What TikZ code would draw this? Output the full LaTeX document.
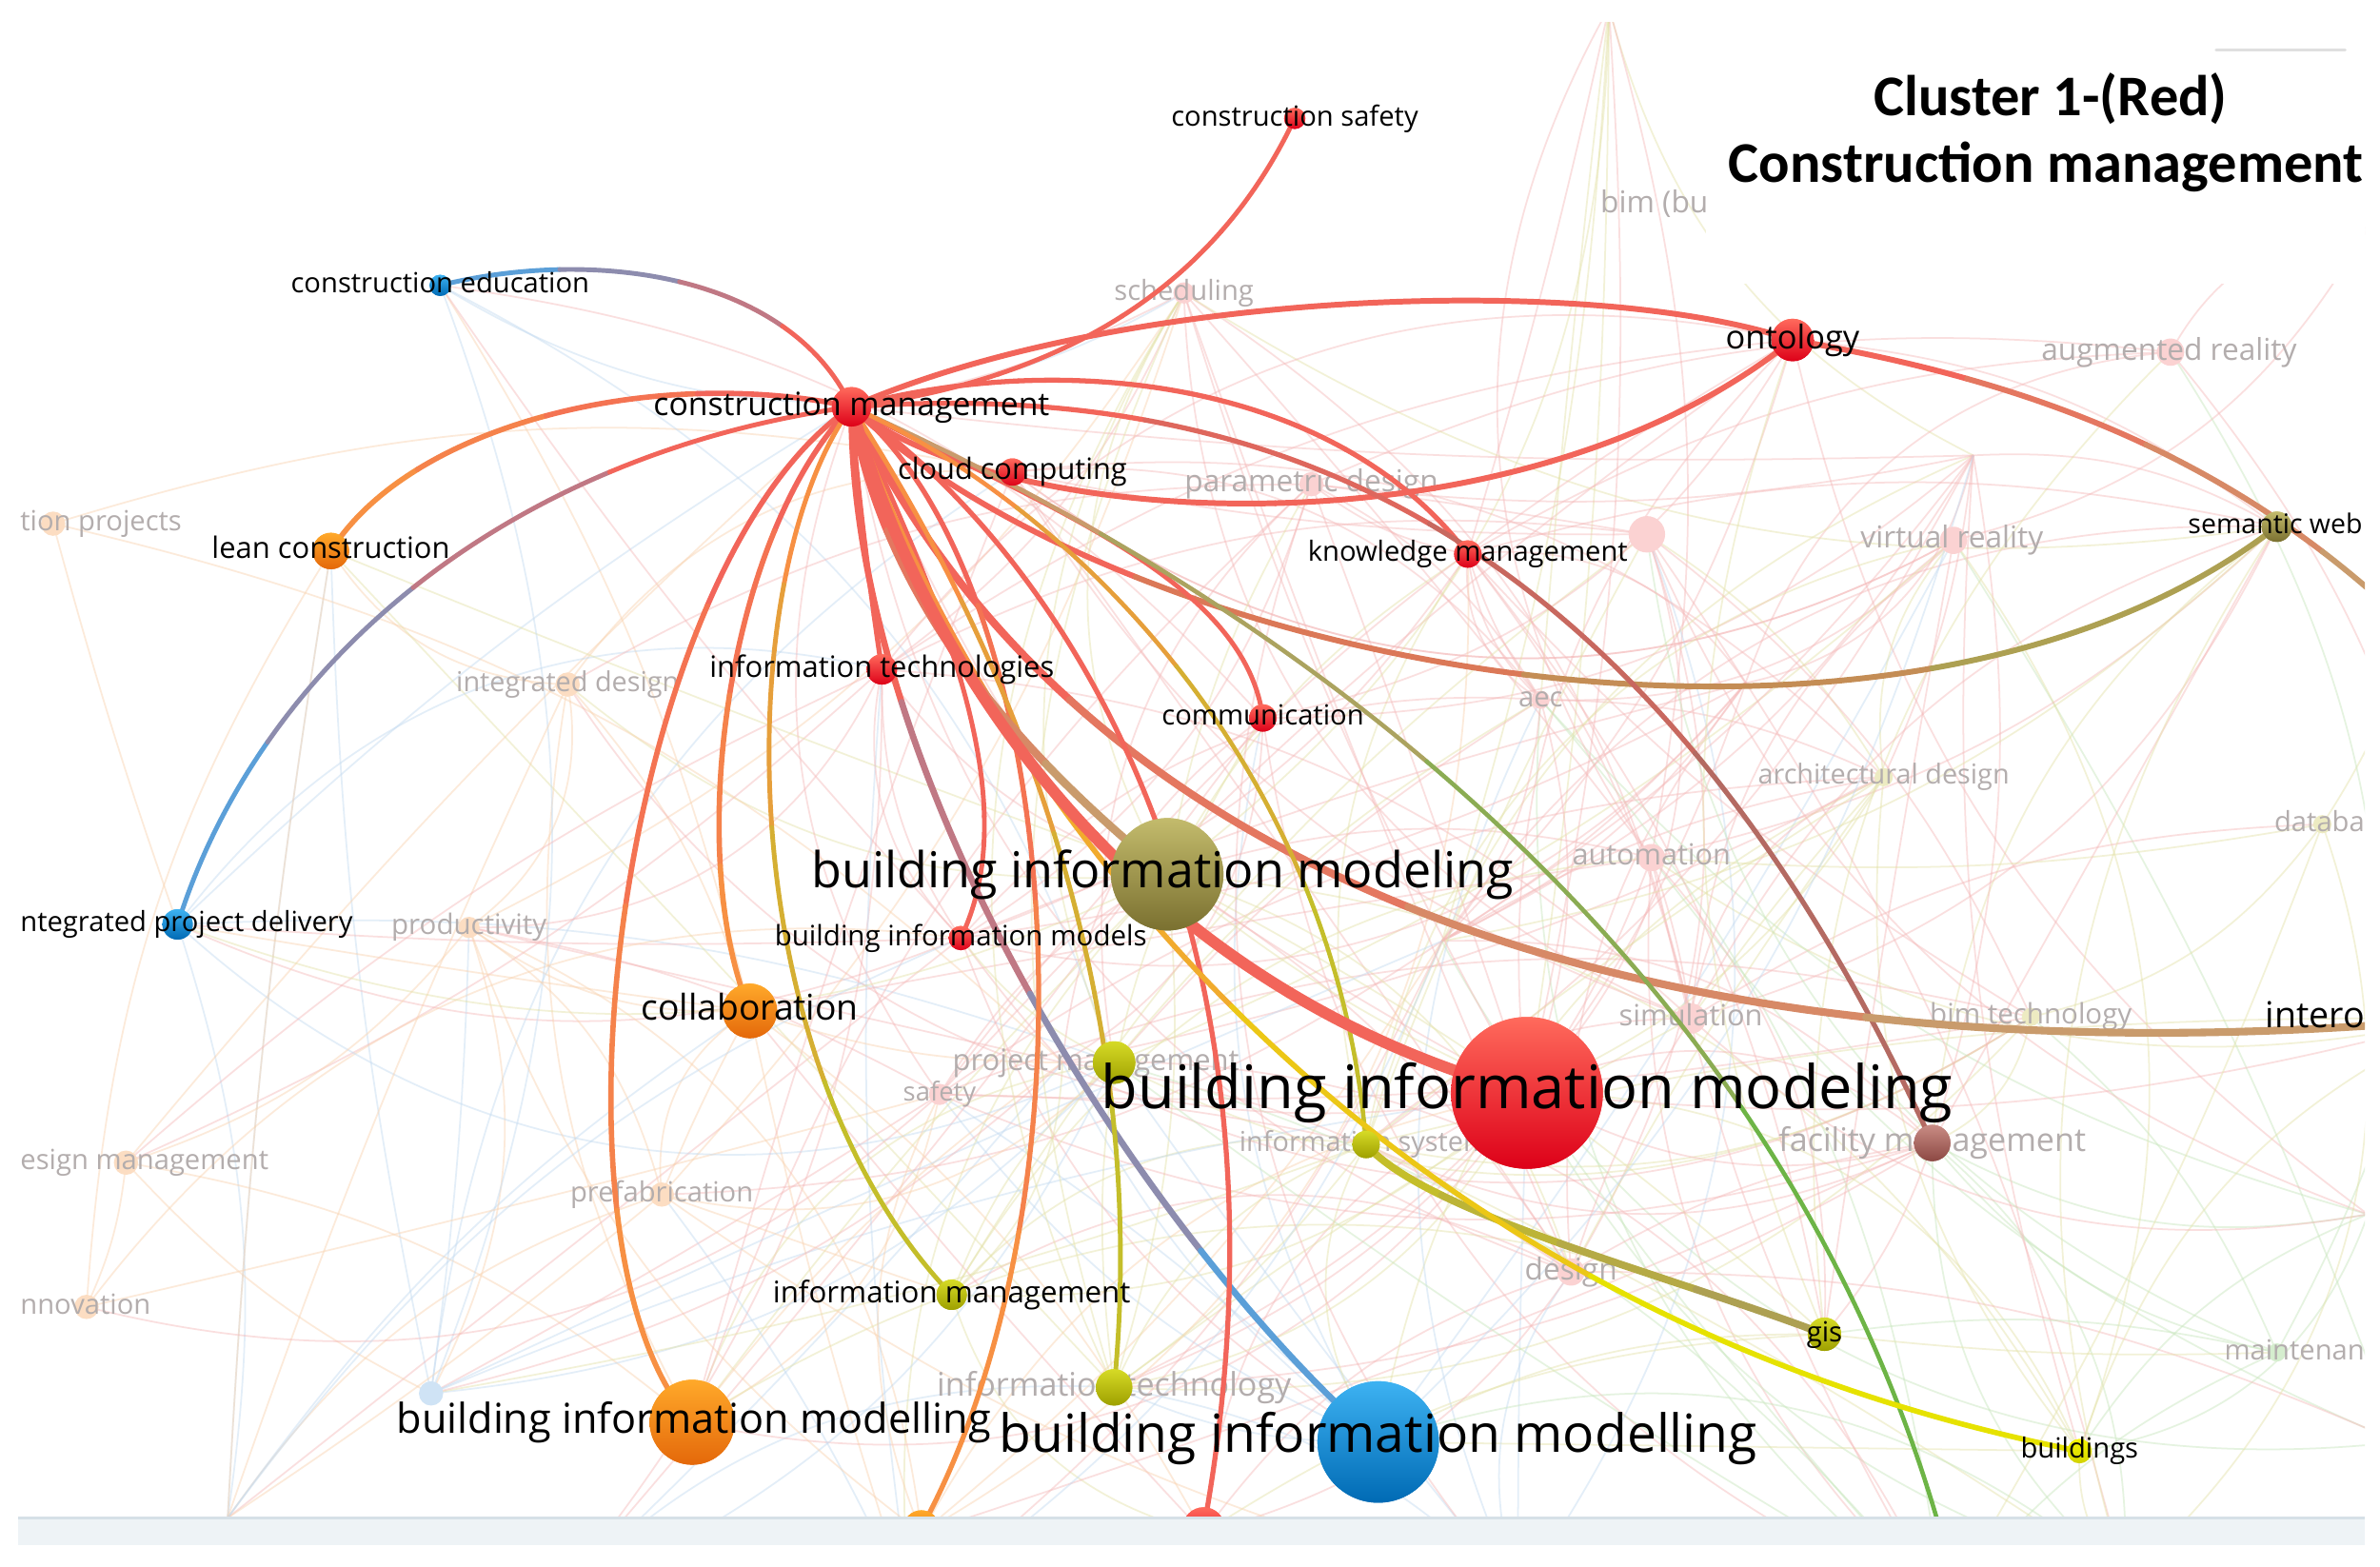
\documentclass[tikz,border=0pt]{standalone}
\usepackage{fontspec}
\setmainfont{Open Sans}
\newfontfamily\titlefont{Carlito}
\usetikzlibrary{calc}
% edge colours
\definecolor{ered}{HTML}{F2655A}
\definecolor{eblue}{HTML}{5B9FD8}
\definecolor{eorange}{HTML}{F79043}
\definecolor{eolive}{HTML}{ADA052}
\definecolor{etan}{HTML}{C99B6C}
\definecolor{eyel}{HTML}{C4BE2A}
\definecolor{eyellow}{HTML}{E6E200}
\definecolor{egreen}{HTML}{6DB446}
\definecolor{ebrown}{HTML}{B46A62}
% node colours
\definecolor{nRt}{HTML}{FF6A5C}\definecolor{nRb}{HTML}{DD0018}
\definecolor{nBt}{HTML}{3DB2F2}\definecolor{nBb}{HTML}{006AB4}
\definecolor{nOt}{HTML}{C3BB6C}\definecolor{nOb}{HTML}{7A7030}
\definecolor{nAt}{HTML}{FFA92A}\definecolor{nAb}{HTML}{E4680A}
\definecolor{nYt}{HTML}{D6DA26}\definecolor{nYb}{HTML}{9EA000}
\definecolor{nWt}{HTML}{F6F600}\definecolor{nWb}{HTML}{D2D200}
\definecolor{nNt}{HTML}{C98C84}\definecolor{nNb}{HTML}{8C4843}
% pale colours
\definecolor{pR}{HTML}{FBD2D2}
\definecolor{pO}{HTML}{FCDDC2}
\definecolor{pY}{HTML}{EDEBC2}
\definecolor{pG}{HTML}{D5EDCE}
\definecolor{pB}{HTML}{CFE3F5}
\definecolor{bgR}{HTML}{F5B9B9}
\definecolor{bgO}{HTML}{F9D2AE}
\definecolor{bgB}{HTML}{C2DAF0}
\definecolor{bgG}{HTML}{C7E6BC}
\definecolor{bgY}{HTML}{E4E2A8}
\definecolor{ftext}{HTML}{B3ADAD}
\definecolor{band}{HTML}{EEF3F6}
\definecolor{bandline}{HTML}{D6E0E7}

\newcommand\lstrut{\rule[-0.24em]{0pt}{1em}}

\tikzset{
  dot/.style={circle, inner sep=0pt, outer sep=0pt, minimum size={2*#1*0.015944cm}},
  nred/.style={top color=nRt, bottom color=nRb},
  nblue/.style={top color=nBt, bottom color=nBb},
  nolive/.style={top color=nOt, bottom color=nOb},
  norange/.style={top color=nAt, bottom color=nAb},
  nyg/.style={top color=nYt, bottom color=nYb},
  nyel/.style={top color=nWt, bottom color=nWb},
  nbrown/.style={top color=nNt, bottom color=nNb},
  pale/.style={fill=#1, draw=none},
  lab/.style={inner sep=0pt, text=black, execute at begin node=\lstrut,
              font=\fontsize{#1}{#1}\selectfont},
  flab/.style={lab=#1, text=ftext},
  edge/.style={line cap=round},
  bgline/.style={line width=0.5pt, opacity=0.45},
}

\newcommand\gedge[7]{%
 \path (#1.center) coordinate (G0) (#2) coordinate (G1) (#3) coordinate (G2) (#4.center) coordinate (G3);
 \path ($(G0)!0.5!(G1)$) coordinate (Ha) ($(G1)!0.5!(G2)$) coordinate (Hb) ($(G2)!0.5!(G3)$) coordinate (Hc);
 \path ($(Ha)!0.5!(Hb)$) coordinate (Hd) ($(Hb)!0.5!(Hc)$) coordinate (He);
 \path ($(Hd)!0.5!(He)$) coordinate (Hm);
 \path ($(G0)!0.5!(Ha)$) coordinate (La) ($(Ha)!0.5!(Hd)$) coordinate (Lb) ($(Hd)!0.5!(Hm)$) coordinate (Lc);
 \path ($(La)!0.5!(Lb)$) coordinate (Ld) ($(Lb)!0.5!(Lc)$) coordinate (Le);
 \path ($(Ld)!0.5!(Le)$) coordinate (Lm);
 \path ($(Hm)!0.5!(He)$) coordinate (Ra) ($(He)!0.5!(Hc)$) coordinate (Rb) ($(Hc)!0.5!(G3)$) coordinate (Rc);
 \path ($(Ra)!0.5!(Rb)$) coordinate (Rd) ($(Rb)!0.5!(Rc)$) coordinate (Re);
 \path ($(Rd)!0.5!(Re)$) coordinate (Rm);
 \draw[edge, line width=#7, draw=#5] (G0) .. controls (La) and (Ld) .. (Lm);
 \draw[edge, line width=#7, draw=#5!67!#6] (Lm) .. controls (Le) and (Lc) .. (Hm);
 \draw[edge, line width=#7, draw=#5!33!#6] (Hm) .. controls (Ra) and (Rd) .. (Rm);
 \draw[edge, line width=#7, draw=#6] (Rm) .. controls (Re) and (Rc) .. (G3);
}

\def\HX{{780,1060,1430,864,1085,1287,35,374,1015,1241,1530,1088,309,1114,1338,700,619,83,436,1035,57,1500,284,290,561,667,218,1181,967,581,832,1500,769,633,117,494,734,1006,1273,900,627,1202,1370,734,456,908,607,793,1620,1280,360,1560,1400,1580,600,1000,1300,1150,950,150,1560}}
\def\HY{{193,5,232,319,352,356,345,451,461,512,543,565,611,671,670,700,721,766,787,838,861,891,918,188,268,311,363,224,365,441,473,347,576,618,609,666,700,720,753,754,853,879,956,914,937,950,1010,1010,671,1060,1060,800,1040,950,1060,1050,300,450,620,1000,150}}
\def\HC{{0,4,0,0,0,0,1,1,0,4,4,0,1,0,4,0,0,1,1,0,1,3,2,2,0,0,1,0,0,0,0,4,4,0,2,1,4,0,0,4,4,4,4,4,1,2,1,0,4,3,2,3,3,3,2,2,0,0,0,2,0}}

\begin{document}
\begin{tikzpicture}[x=0.015944cm, y=-0.015944cm]
\useasboundingbox (0,0) rectangle (1568,1032);
\fill[white] (0,0) rectangle (1568,1032);

\begin{scope}
\clip (12,15) rectangle (1558,1000);

% ---------- faint background network ----------
\pgfmathsetseed{4242}
\foreach \k in {1,...,560}{
  \pgfmathrandominteger{\ia}{0}{60}
  \pgfmathrandominteger{\ib}{0}{60}
  \pgfmathrandominteger{\bb}{-34}{34}
  \pgfmathsetmacro{\xa}{\HX[\ia]}
  \pgfmathsetmacro{\ya}{\HY[\ia]}
  \pgfmathsetmacro{\xb}{\HX[\ib]}
  \pgfmathsetmacro{\yb}{\HY[\ib]}
  \pgfmathtruncatemacro{\ca}{\HC[\ia]}
  \pgfmathsetmacro{\dd}{veclen(\xa-\xb,\ya-\yb)}
  \ifcase\ca\def\bgc{bgR}\or\def\bgc{bgO}\or\def\bgc{bgB}\or\def\bgc{bgG}\or\def\bgc{bgY}\fi
  \ifdim\dd pt<760pt \ifdim\dd pt>20pt
    \draw[bgline, draw=\bgc] (\xa,\ya) to[bend left=\bb] (\xb,\yb);
  \fi\fi
}

% ---------- faint nodes ----------
\node[dot=7, pale=pR] (fsch) at (780,193) {};
\node[dot=9, pale=pR] (faug) at (1430,232) {};
\node[dot=8, pale=pR] (fpar) at (864,319) {};
\node[dot=12, pale=pR] (fpink) at (1085,352) {};
\node[dot=9, pale=pR] (fvr) at (1287,356) {};
\node[dot=8, pale=pO] (fcp) at (35,345) {};
\node[dot=8, pale=pO] (fid) at (374,451) {};
\node[dot=6, pale=pR] (faec) at (1015,461) {};
\node[dot=6, pale=pY] (farch) at (1241,512) {};
\node[dot=6, pale=pY] (fdb) at (1530,543) {};
\node[dot=9, pale=pR] (faut) at (1088,565) {};
\node[dot=7, pale=pO] (fprod) at (309,611) {};
\node[dot=10, pale=pR] (fsim) at (1114,671) {};
\node[dot=6, pale=pY] (fbt) at (1338,670) {};
\node[dot=7, pale=pR] (fsaf) at (619,721) {};
\node[dot=8, pale=pO] (fdm) at (83,766) {};
\node[dot=8, pale=pO] (fpre) at (436,787) {};
\node[dot=9, pale=pR] (fdes) at (1035,838) {};
\node[dot=8, pale=pO] (finn) at (57,861) {};
\node[dot=6, pale=pG] (fmai) at (1500,891) {};
\node[dot=8, pale=pB] (ffra) at (284,918) {};

% ---------- faint labels ----------
\node[flab=8.3] (lsch) at (780,193) {scheduling};
\node[flab=9, anchor=west] (lbimbu) at (1054,135) {bim (bu};
\node[flab=9] (laug) at (1429,232) {augmented reality};
\node[flab=9] (lpar) at (864,319) {parametric design};
\node[flab=9] (lvr) at (1286,356) {virtual reality};
\node[flab=8.3, anchor=west] (lcp) at (13,345) {tion projects};
\node[flab=8.2] (lid) at (374,451) {integrated design};
\node[flab=8.3] (laec) at (1015,461) {aec};
\node[flab=8.2] (larch) at (1241,512) {architectural design};
\node[flab=8.3, anchor=west] (ldb) at (1498,543) {databa};
\node[flab=8.7] (laut) at (1088,565) {automation};
\node[flab=8.4] (lprod) at (309,611) {productivity};
\node[flab=8.75] (lsim) at (1114,671) {simulation};
\node[flab=8.4] (lbt) at (1338,670) {bim technology};
\node[flab=8.8] (lpm) at (722,700) {project management};
\node[flab=7.8] (lsaf) at (619,721) {safety};
\node[flab=8.3, anchor=west] (ldm) at (13,766) {esign management};
\node[flab=8.3] (lpre) at (436,787) {prefabrication};
\node[flab=8.2] (lis) at (903,754) {information systems};
\node[flab=9.7] (lfm) at (1273,753) {facility management};
\node[flab=9] (ldes) at (1035,838) {design};
\node[flab=8.3, anchor=west] (linn) at (13,861) {nnovation};
\node[flab=8.3, anchor=west] (lmai) at (1465,891) {maintenan};
\node[flab=9.7] (lity) at (734,914) {information technology};

% ---------- main node positions ----------
\coordinate (exI) at (1640,470);
\coordinate (exG) at (1288,1045);
\coordinate (exP) at (1610,672);

\node[dot=7, nred] (cs) at (853,78) {};
\node[dot=7, nblue] (ce) at (290,188) {};
\node[dot=13, nred] (cm) at (561,268) {};
\node[dot=9, nred] (cc) at (667,311) {};
\node[dot=12, norange] (lc) at (218,363) {};
\node[dot=14, nred] (ont) at (1181,224) {};
\node[dot=9, nred] (km) at (967,365) {};
\node[dot=10, nred] (it) at (581,441) {};
\node[dot=9, nred] (com) at (832,473) {};
\node[dot=10, nolive] (sw) at (1500,347) {};
\node[dot=37, nolive] (obim) at (769,576) {};
\node[dot=8, nred] (bimm) at (633,618) {};
\node[dot=10, nblue] (ipd) at (117,609) {};
\node[dot=18, norange] (col) at (494,666) {};
\node[dot=14, nyg] (os) at (734,700) {};
\node[dot=50, nred] (rbim) at (1006,720) {};
\node[dot=12, nbrown] (fm) at (1273,753) {};
\node[dot=9, nyg] (is) at (900,754) {};
\node[dot=10, nyg] (im) at (627,853) {};
\node[dot=11, nyg] (gis) at (1202,879) {};
\node[dot=8, nyel] (bld) at (1370,956) {};
\node[dot=12, nyg] (ity) at (734,914) {};
\node[dot=28, norange] (orbim) at (456,937) {};
\node[dot=40, nblue] (blbim) at (908,950) {};
\node[dot=12, norange] (bo) at (607,1007) {};
\node[dot=14, nred] (br) at (793,1007) {};

% ---------- highlighted connectors ----------
\gedge{ce}{390,163}{520,180}{cm}{eblue}{ered}{1.4pt}
\gedge{ipd}{170,440}{330,300}{cm}{eblue}{ered}{1.4pt}
\gedge{lc}{270,280}{430,240}{cm}{eorange}{ered}{1.6pt}
\gedge{cm}{700,250}{800,190}{cs}{ered}{ered}{1.4pt}
\gedge{cm}{740,190}{1050,180}{ont}{ered}{ered}{1.7pt}
\gedge{cm}{660,350}{1000,370}{ont}{ered}{ered}{1.7pt}
\gedge{ont}{1330,250}{1500,300}{exI}{ered}{etan}{1.7pt}
\gedge{cm}{740,440}{1250,540}{sw}{ered}{eolive}{1.7pt}
\gedge{cm}{700,230}{880,250}{km}{ered}{ered}{1.5pt}
\gedge{cm}{820,250}{1080,330}{fm}{ered}{ebrown}{1.5pt}
\gedge{cm}{680,330}{820,380}{com}{ered}{ered}{1.4pt}
\gedge{cm}{565,330}{575,400}{it}{ered}{ered}{1.5pt}
\gedge{cm}{610,380}{680,520}{bimm}{ered}{ered}{1.4pt}
\gedge{cm}{700,560}{1050,720}{exP}{ered}{etan}{2.3pt}
\gedge{cm}{720,340}{1170,560}{exG}{etan}{egreen}{1.3pt}
\gedge{cm}{410,370}{350,820}{orbim}{ered}{eorange}{1.6pt}
\gedge{cm}{480,350}{450,560}{col}{ered}{eorange}{1.6pt}
\gedge{cm}{480,380}{480,700}{im}{eorange}{eyel}{1.4pt}
\gedge{cm}{560,520}{760,820}{blbim}{ered}{eblue}{1.9pt}
\gedge{cm}{700,380}{730,780}{bo}{ered}{eorange}{1.5pt}
\gedge{cm}{720,380}{860,640}{br}{ered}{ered}{1.5pt}
\gedge{cm}{660,420}{760,650}{ity}{eorange}{eyel}{1.4pt}
\gedge{cm}{700,330}{880,500}{is}{eorange}{eyel}{1.3pt}
\gedge{is}{940,800}{1100,840}{gis}{eyel}{eolive}{2.2pt}
\gedge{cm}{640,500}{880,860}{bld}{eorange}{eyellow}{1.6pt}
\gedge{cm}{580,380}{650,480}{obim}{ered}{etan}{2.4pt}
\gedge{cm}{620,480}{780,660}{rbim}{ered}{ered}{3.4pt}

% redraw node discs on top of connectors
\foreach \n/\r/\s in {cs/7/nred, ce/7/nblue, cm/13/nred, cc/9/nred, lc/12/norange,
  ont/14/nred, km/9/nred, it/10/nred, com/9/nred, sw/10/nolive, obim/37/nolive,
  bimm/8/nred, ipd/10/nblue, col/18/norange, os/14/nyg, rbim/50/nred, fm/12/nbrown,
  is/9/nyg, im/10/nyg, gis/11/nyg, bld/8/nyel, ity/12/nyg, orbim/28/norange,
  blbim/40/nblue, bo/12/norange, br/14/nred}{
  \node[dot=\r, \s] (\n D) at (\n) {};
}

% ---------- main labels ----------
\node[lab=8.3] (Lcs) at (cs) {construction safety};
\node[lab=8.3] (Lce) at (ce) {construction education};
\node[lab=9.6] (Lcm) at (cm) {construction management};
\node[lab=8.75] (Lcc) at (cc) {cloud computing};
\node[lab=8.8] (Llc) at (lc) {lean construction};
\node[lab=9.8] (Lont) at (ont) {ontology};
\node[lab=8.3] (Lkm) at (km) {knowledge management};
\node[lab=8.8] (Lit) at (it) {information technologies};
\node[lab=8.3] (Lcom) at (com) {communication};
\node[lab=8.1] (Lsw) at (1499,347) {semantic web};
\node[lab=14.8] (Lobim) at (766,576) {building information modeling};
\node[lab=8.4] (Lbimm) at (bimm) {building information models};
\node[lab=8.3, anchor=west] (Lipd) at (13,609) {ntegrated project delivery};
\node[lab=10.6] (Lcol) at (col) {collaboration};
\node[lab=17.95] (Lrbim) at (rbim) {building information modeling};
\node[lab=8.9] (Lim) at (im) {information management};
\node[lab=8.3] (Lgis) at (gis) {gis};
\node[lab=8.3] (Lbld) at (bld) {buildings};
\node[lab=12.3] (Lorbim) at (457,937) {building information modelling};
\node[lab=15.7] (Lblbim) at (908,948) {building information modelling};
\node[lab=10.7, anchor=west] (Lint) at (1492,671) {intero};
\end{scope}

% ---------- bottom band ----------
\fill[band] (12,1000) rectangle (1558,1018);
\draw[bandline, line width=0.8pt] (12,1000) -- (1558,1000);

% ---------- title box ----------
\fill[white] (1124,15) rectangle (1558,187);
\draw[gray!25, line width=0.8pt, line cap=round] (1460,33) -- (1545,33);
\node[inner sep=0pt, font=\titlefont\bfseries\fontsize{17.2}{20}\selectfont] (t1) at (1351,65) {Cluster 1-(Red)};
\node[inner sep=0pt, font=\titlefont\bfseries\fontsize{17.2}{20}\selectfont] (t2) at (1348,110) {Construction management};
\end{tikzpicture}
\end{document}
